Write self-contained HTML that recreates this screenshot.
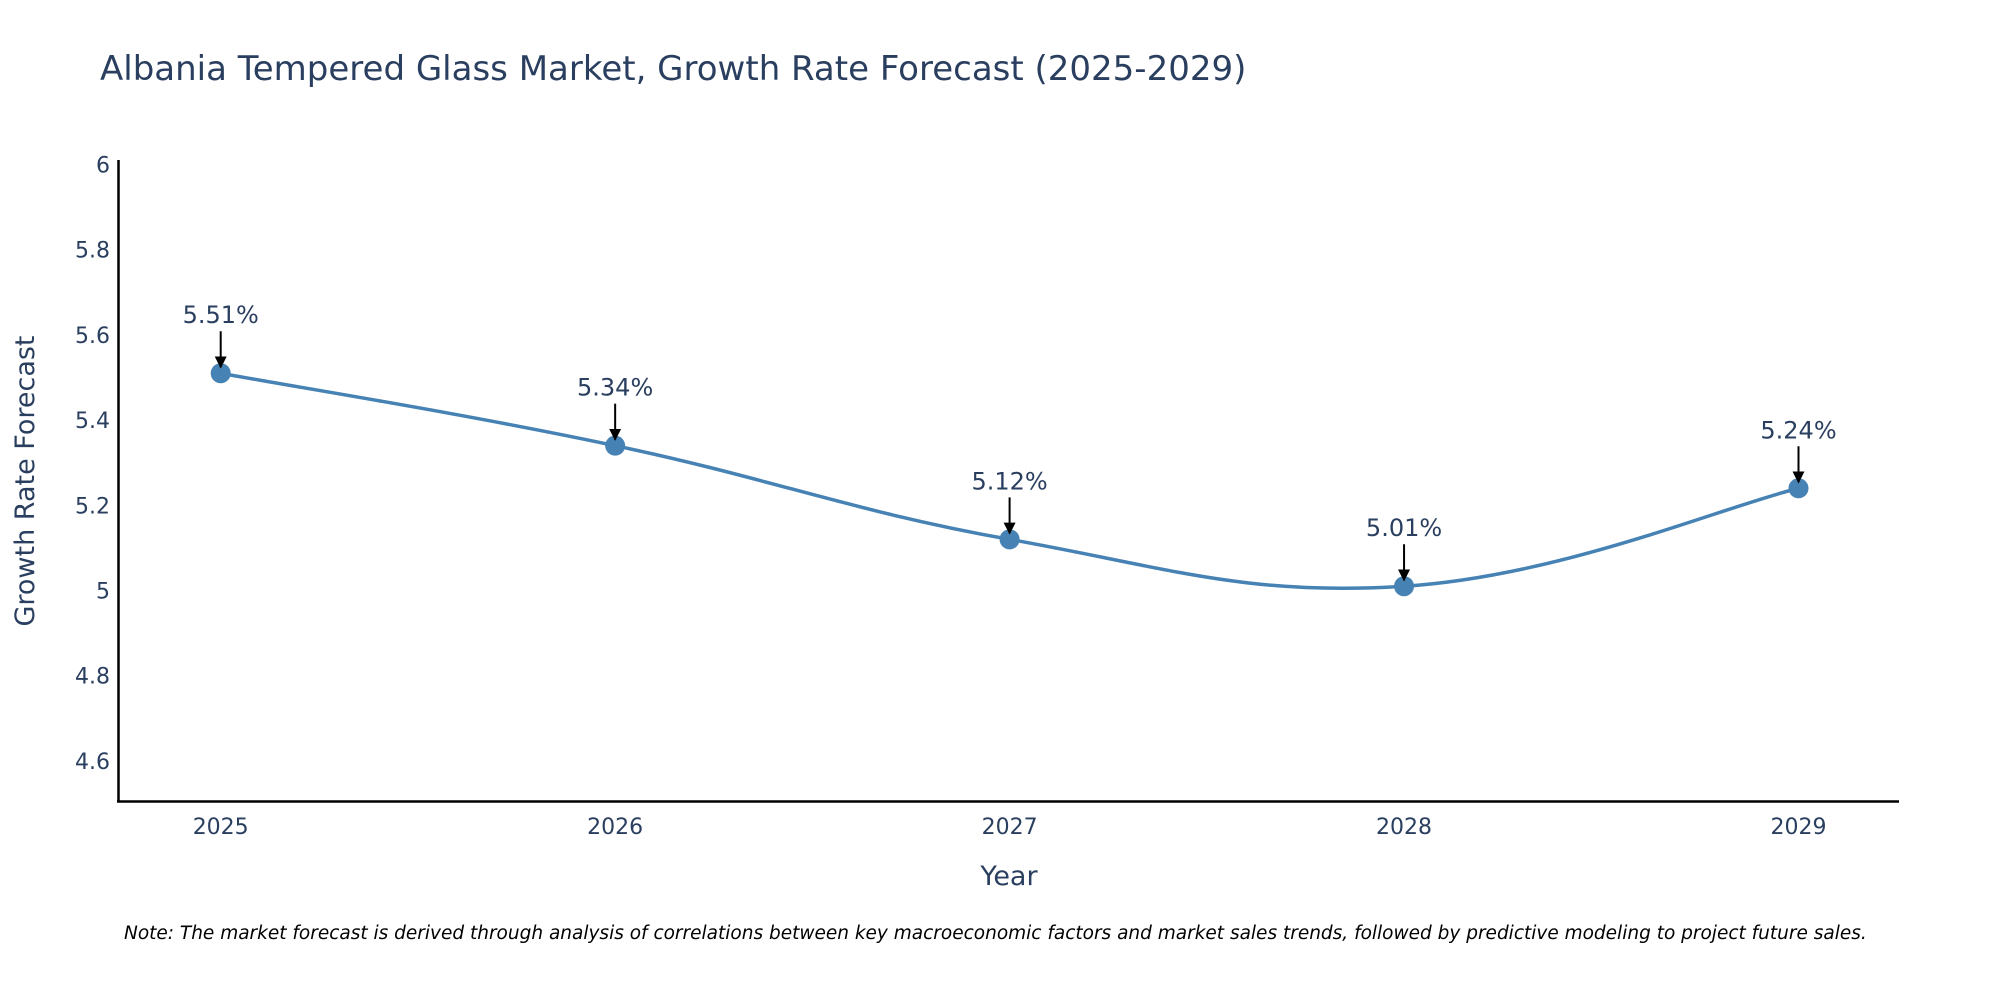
<!DOCTYPE html>
<html><head><meta charset="utf-8"><style>
body{margin:0;background:#fff;overflow:hidden;}
svg{display:block;font-family:"DejaVu Sans","Liberation Sans",sans-serif;}
</style></head><body>
<svg id="chart" width="2000" height="1000" viewBox="0 0 2000 1000">
<defs><marker id="ah" viewBox="0 0 10 10" refX="9" refY="5" markerWidth="6" markerHeight="6" orient="auto"><path d="M0,0 L10,5 L0,10 z" fill="#000"/></marker></defs>
<text x="100" y="80" font-size="34" fill="#2a3f5f">Albania Tempered Glass Market, Growth Rate Forecast (2025-2029)</text>
<g id="yticks"></g><g id="xticks"></g>
<line x1="118.5" y1="160" x2="118.5" y2="802" stroke="#000" stroke-width="2.5"/>
<line x1="117" y1="801.5" x2="1899" y2="801.5" stroke="#000" stroke-width="2.5"/>
<text transform="translate(34,481) rotate(-90)" text-anchor="middle" font-size="27" fill="#2a3f5f">Growth Rate Forecast</text>
<text x="1009" y="885" text-anchor="middle" font-size="27" fill="#2a3f5f">Year</text>
<g id="series"></g>
<text x="124" y="939" font-size="18.5" font-style="italic" fill="#000">Note: The market forecast is derived through analysis of correlations between key macroeconomic factors and market sales trends, followed by predictive modeling to project future sales.</text>
</svg>
<script>
const years = [2025, 2026, 2027, 2028, 2029];
const rates = [5.51, 5.34, 5.12, 5.01, 5.24];
const yTickValues = [4.6, 4.8, 5, 5.2, 5.4, 5.6, 5.8, 6];
const yTickLabels = ["4.6", "4.8", "5", "5.2", "5.4", "5.6", "5.8", "6"];

const NS = "http://www.w3.org/2000/svg";
function X(v){ return 220.7 + (v - 2025) * 394.45; }
function Y(v){ return 590.5 - (v - 5) * 426; }
function mk(tag, attrs, parent, text){
  const e = document.createElementNS(NS, tag);
  for (const k in attrs) e.setAttribute(k, attrs[k]);
  if (text !== undefined) e.textContent = text;
  parent.appendChild(e); return e;
}
const yt = document.getElementById('yticks');
yTickValues.forEach((v, i) => {
  const t = mk('text', {x: 110, y: Y(v) + 8, 'text-anchor': 'end', 'font-size': 22, fill: '#2a3f5f'}, yt, yTickLabels[i]);
  
  
});
const xt = document.getElementById('xticks');
years.forEach(v => {
  const t = mk('text', {x: X(v), y: 834, 'text-anchor': 'middle', 'font-size': 22, fill: '#2a3f5f'}, xt, String(v));
  
  
});
const g = document.getElementById('series');
const pts = years.map((y, i) => [X(y), Y(rates[i])]);
let d = 'M' + pts[0][0] + ',' + pts[0][1];
const s = 0.2;
for (let i = 0; i < pts.length - 1; i++) {
  const p0 = pts[Math.max(i - 1, 0)], p1 = pts[i], p2 = pts[i + 1], p3 = pts[Math.min(i + 2, pts.length - 1)];
  const c1 = [p1[0] + (p2[0] - p0[0]) * s, p1[1] + (p2[1] - p0[1]) * s];
  const c2 = [p2[0] - (p3[0] - p1[0]) * s, p2[1] - (p3[1] - p1[1]) * s];
  d += ' C' + c1 + ' ' + c2 + ' ' + p2;
}
const line = mk('path', {d: d, fill: 'none', stroke: '#4682b4', 'stroke-width': 3.5}, g);


pts.forEach((p, i) => {
  const c = mk('circle', {cx: p[0], cy: p[1], r: 10, fill: '#4682b4'}, g);
  
  
  const a = mk('line', {x1: p[0], y1: p[1] - 42, x2: p[0], y2: p[1] - 6, stroke: '#000', 'stroke-width': 2, 'marker-end': 'url(#ah)'}, g);
  
  
  const t = mk('text', {x: p[0], y: p[1] - 50, 'text-anchor': 'middle', 'font-size': 24, fill: '#2a3f5f'}, g, rates[i].toFixed(2) + '%');
  
  
});
</script>
</body></html>
